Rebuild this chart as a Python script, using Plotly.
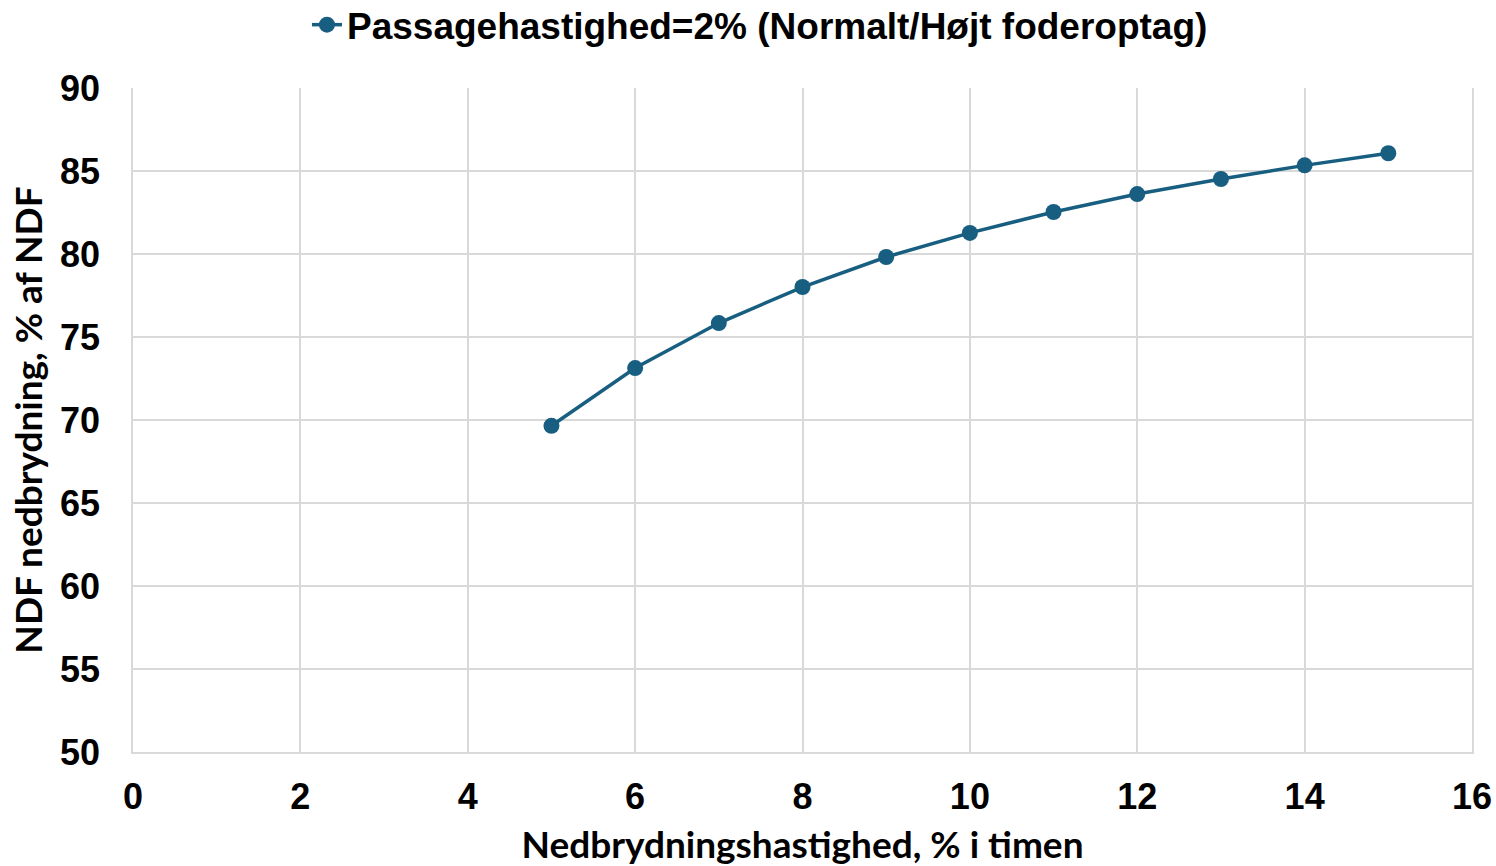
import plotly.graph_objects as go

# Nedbrydningshastighed (% i timen) og NDF-nedbrydning (% af NDF)
kd_values = [5, 6, 7, 8, 9, 10, 11, 12, 13, 14, 15]
ndf_values = [69.65, 73.13, 75.84, 78.01, 79.82, 81.27, 82.53, 83.61, 84.52, 85.34, 86.07]
series_name = "Passagehastighed=2% (Normalt/Højt foderoptag)"

line_color = "#175E80"
grid_color = "#D9D9D9"
tick_font = dict(family="Liberation Sans, Arial", size=36, color="#000000", weight="bold")
title_font = dict(family="Lato, Noto Sans", size=37, color="#000000", weight="bold")

fig = go.Figure()
fig.add_trace(go.Scatter(
    x=kd_values,
    y=ndf_values,
    mode="lines+markers",
    name=series_name,
    line=dict(color=line_color, width=3.5),
    marker=dict(color=line_color, size=16),
))

fig.update_layout(
    width=1496,
    height=866,
    margin=dict(l=133, r=24, t=88, b=114),
    paper_bgcolor="white",
    plot_bgcolor="white",
    showlegend=True,
    legend=dict(
        orientation="h",
        x=0.508,
        xanchor="center",
        xref="container",
        y=0.971,
        yanchor="middle",
        yref="container",
        font=dict(family="Liberation Sans, Arial", size=37, color="#000000", weight="bold"),
        itemwidth=30,
    ),
    xaxis=dict(
        range=[0, 16],
        tickmode="linear",
        tick0=0,
        dtick=2,
        automargin=False,
        showgrid=True,
        gridcolor=grid_color,
        gridwidth=1.5,
        zeroline=False,
        showline=True,
        linecolor=grid_color,
        linewidth=1.5,
        tickfont=tick_font,
        ticks="",
        ticklabelstandoff=12,
        title=dict(text="Nedbrydningshastighed, % i timen", font=title_font, standoff=20),
    ),
    yaxis=dict(
        range=[50, 90],
        tickmode="linear",
        tick0=50,
        dtick=5,
        automargin=False,
        showgrid=True,
        gridcolor=grid_color,
        gridwidth=1.5,
        zeroline=False,
        showline=True,
        linecolor=grid_color,
        linewidth=1.5,
        mirror=True,
        tickfont=tick_font,
        ticks="",
        ticklabelstandoff=24,
        title=dict(text="NDF nedbrydning, % af NDF", font=title_font, standoff=6),
    ),
)

fig.write_html("out.html")
